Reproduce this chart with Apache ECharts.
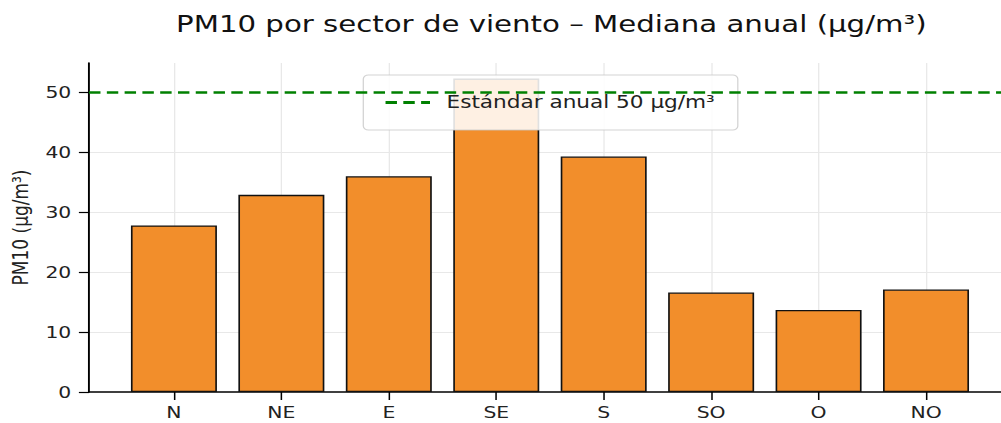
<!DOCTYPE html>
<html>
<head>
<meta charset="utf-8">
<title>PM10 por sector de viento</title>
<script src="https://cdn.jsdelivr.net/npm/echarts@6/dist/echarts.min.js"></script>
<style>
    html, body { margin: 0; padding: 0; background: #fff; overflow: hidden; }
    /* la figura original viene estirada en horizontal, se reproduce con scaleX */
    #chart { width: 788px; height: 423px; transform: scaleX(1.2703); transform-origin: 0 0; }
</style>
</head>
<body>
<div id="chart"></div>
<script>
const sectores = ['N', 'NE', 'E', 'SE', 'S', 'SO', 'O', 'NO']
const medianas = [27.8, 32.9, 36.0, 52.3, 39.3, 16.6, 13.7, 17.1]
const yTicks = [0, 10, 20, 30, 40, 50]
const estandar = 50
const nombreEstandar = 'Estándar anual 50 µg/m³'

const font = 'DejaVu Sans'
const verde = '#008000'
const myChart = echarts.init(document.getElementById('chart'), null, { renderer: 'svg' })

const option = {
    animation: false,
    backgroundColor: '#fff',
    title: {
        text: 'PM10 por sector de viento – Mediana anual (µg/m³)',
        left: 429,
        top: 8,
        textAlign: 'center',
        textStyle: { fontFamily: font, fontSize: 23, fontWeight: 'normal', color: '#111' }
    },
    grid: { left: 70.1, right: -7.8, top: 63, bottom: 31, outerBoundsMode: 'none' },
    legend: {
        left: 286,
        top: 75,
        padding: [19, 18, 19, 16],
        itemWidth: 35,
        itemHeight: 14,
        itemGap: 0,
        itemStyle: { opacity: 0 },
        lineStyle: { width: 3 },
        backgroundColor: 'rgba(255,255,255,0.87)',
        borderColor: 'rgba(200,200,200,0.8)',
        borderWidth: 1,
        borderRadius: 4,
        textStyle: { fontFamily: font, fontSize: 17, color: '#222', padding: [0, 0, 0, 8] },
        data: [nombreEstandar]
    },
    xAxis: {
        type: 'value',
        min: -0.79,
        max: 7.79,
        axisLine: { show: true, onZero: false, lineStyle: { color: '#000', width: 1.5 } },
        axisTick: { show: true, length: 8, customValues: sectores.map((s, i) => i), lineStyle: { color: '#000', width: 1.2 } },
        axisLabel: {
            customValues: sectores.map((s, i) => i),
            formatter: v => sectores[Math.round(v)],
            margin: 12,
            fontFamily: font, fontSize: 16, color: '#222'
        },
        splitLine: { show: true, lineStyle: { color: '#e8e8e8', width: 1 } }
    },
    yAxis: {
        type: 'value',
        min: 0,
        max: 54.9,
        name: 'PM10 (µg/m³)',
        nameLocation: 'middle',
        nameRotate: 90,
        nameGap: 45,
        nameTextStyle: { fontFamily: font, fontSize: 17, color: '#222' },
        axisLine: { show: true, onZero: false, lineStyle: { color: '#000', width: 1.5 } },
        axisTick: { show: true, length: 8, customValues: yTicks, lineStyle: { color: '#000', width: 1.2 } },
        axisLabel: { customValues: yTicks, margin: 14, fontFamily: font, fontSize: 16, color: '#222' },
        splitLine: { show: true, showMinLine: false, showMaxLine: false, lineStyle: { color: '#e8e8e8', width: 1 } }
    },
    series: [
        {
            type: 'bar',
            name: 'Mediana',
            data: medianas.map((v, i) => [i, v]),
            barWidth: 67.7,
            itemStyle: { color: '#f28e2b', borderColor: '#111', borderWidth: 1.3 },
            z: 2
        },
        {
            type: 'line',
            name: nombreEstandar,
            data: [],
            symbol: 'none',
            itemStyle: { color: verde },
            lineStyle: { color: verde, width: 2.6, type: [9, 5] },
            markLine: {
                silent: true,
                symbol: 'none',
                label: { show: false },
                lineStyle: { color: verde, width: 2.6, type: [9, 5] },
                data: [{ yAxis: estandar }]
            },
            z: 3
        }
    ]
}
option && myChart.setOption(option)
</script>
</body>
</html>
